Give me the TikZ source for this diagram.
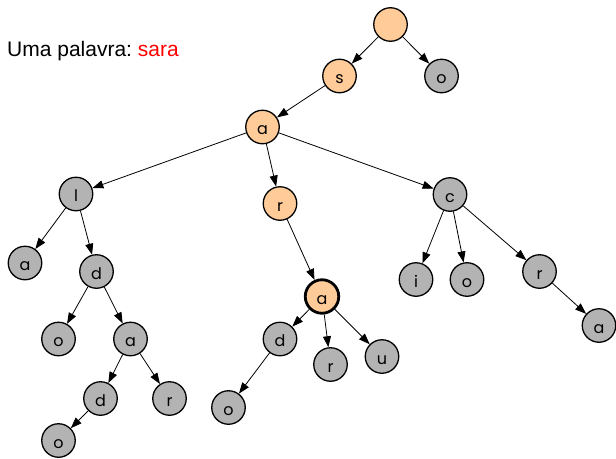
\documentclass[tikz,border=0pt]{standalone}
\usepackage{fontspec}
\setmainfont{Liberation Sans}
\newfontfamily\nodefont{Poppins}
\usetikzlibrary{arrows.meta}
\definecolor{orangefill}{HTML}{FFCC99}
\definecolor{greyfill}{HTML}{B3B3B3}
\frenchspacing
\begin{document}
\begin{tikzpicture}[x=1pt,y=-1pt,
  trienode/.style={circle, draw, line width=1.3pt, minimum size=33.5pt, inner sep=0pt,
    text height=15pt, text depth=0pt, font=\nodefont\fontsize{16}{16}\selectfont},
  hot/.style={trienode, fill=orangefill},
  cold/.style={trienode, fill=greyfill},
  endword/.style={line width=2.8pt},
  link/.style={-{Triangle[length=11pt,width=8pt]}, line width=0.8pt}]
\useasboundingbox (0,0) rectangle (616,458);

\node[anchor=base west, inner sep=0pt, font=\fontsize{21}{25}\selectfont] (title) at (7,56) {Uma palavra: \textcolor{red}{sara}};

\node[hot]  (root) at (390.5,24.5) {};
\node[hot]  (s)    at (339.5,76) {s};
\node[cold] (o1)   at (441.5,76) {o};
\node[hot]  (a1)   at (262.5,127) {a};
\node[cold] (l)    at (76,194) {l};
\node[hot]  (r1)   at (280,203.5) {r};
\node[cold] (c)    at (450,194.5) {c};
\node[cold] (a2)   at (25,263) {a};
\node[cold] (d1)   at (96.5,271.5) {d};
\node[cold] (o2)   at (58.5,339) {o};
\node[cold] (a3)   at (130.5,339) {a};
\node[cold] (d2)   at (100.5,398.5) {d};
\node[cold] (r2)   at (169.5,398.5) {r};
\node[cold] (o3)   at (58.5,440.5) {o};
\node[hot,endword] (a4) at (322,296.5) {a};
\node[cold] (d3)   at (280,339) {d};
\node[cold] (r3)   at (330.5,364.5) {r};
\node[cold] (u)    at (382,356.5) {u};
\node[cold] (o4)   at (228.5,407.5) {o};
\node[cold] (i)    at (416,279.5) {i};
\node[cold] (o5)   at (467,279.5) {o};
\node[cold] (r4)   at (539.5,271.5) {r};
\node[cold] (a5)   at (599,325.5) {a};

\draw[link] (root) -- (s);
\draw[link] (root) -- (o1);
\draw[link] (s) -- (a1);
\draw[link] (a1) -- (l);
\draw[link] (a1) -- (r1);
\draw[link] (a1) -- (c);
\draw[link] (l) -- (a2);
\draw[link] (l) -- (d1);
\draw[link] (d1) -- (o2);
\draw[link] (d1) -- (a3);
\draw[link] (a3) -- (d2);
\draw[link] (a3) -- (r2);
\draw[link] (d2) -- (o3);
\draw[link] (r1) -- (a4);
\draw[link] (a4) -- (d3);
\draw[link] (a4) -- (r3);
\draw[link] (a4) -- (u);
\draw[link] (d3) -- (o4);
\draw[link] (c) -- (i);
\draw[link] (c) -- (o5);
\draw[link] (c) -- (r4);
\draw[link] (r4) -- (a5);
\end{tikzpicture}
\end{document}
